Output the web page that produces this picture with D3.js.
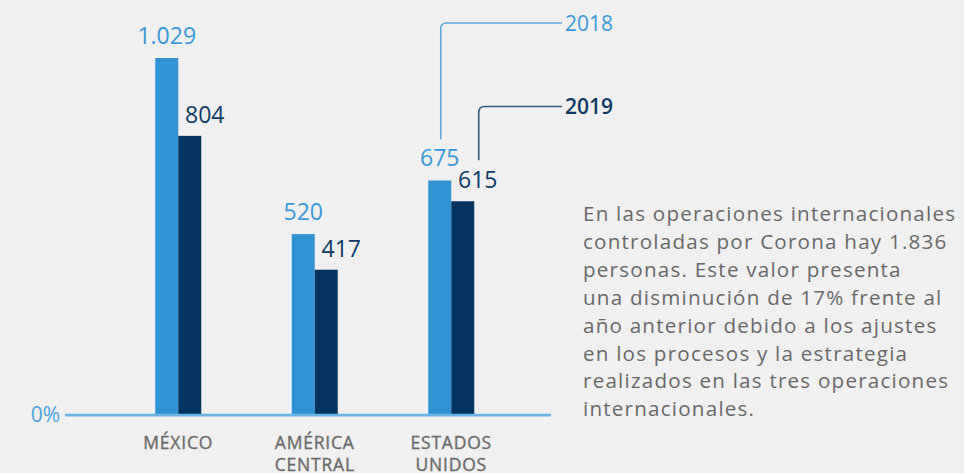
<!DOCTYPE html>
<html>
<head>
<meta charset="utf-8">
<script src="https://cdn.jsdelivr.net/npm/d3@7"></script>
<style>
  html, body { margin: 0; padding: 0; background: #f0f0f0; }
  svg { display: block; font-family: "Open Sans", "Noto Sans", sans-serif; }
</style>
</head>
<body>
<svg id="chart" width="964" height="473"></svg>
<script>
// Personas en operaciones internacionales por región
const categories = [["MÉXICO"], ["AMÉRICA", "CENTRAL"], ["ESTADOS", "UNIDOS"]];
const years = ["2018", "2019"];
const values2018 = [1029, 520, 675];
const values2019 = [804, 417, 615];
const valueLabels2018 = ["1.029", "520", "675"];
const valueLabels2019 = ["804", "417", "615"];
const zeroLabel = "0%";
const noteLines = [
  "En las operaciones internacionales",
  "controladas por Corona hay 1.836",
  "personas. Este valor presenta",
  "una disminución de 17% frente al",
  "año anterior debido a los ajustes",
  "en los procesos y la estrategia",
  "realizados en las tres operaciones",
  "internacionales."
];

const colors = { "2018": "#3193d3", "2019": "#02345f" };
const labelColors = { "2018": "#3a98d8", "2019": "#0c3a63" };

const svg = d3.select("#chart");
const baseY = 414;

const keys = categories.map(c => c.join(" "));
const x = d3.scaleBand().domain(keys).range([110, 519.5]).padding(0);
const sub = d3.scaleBand().domain(years).range([x.bandwidth() / 2 - 23, x.bandwidth() / 2 + 23]);
const y = d3.scaleLinear().domain([0, d3.max(values2018.concat(values2019))]).range([baseY, 58]);

const rows = keys.map((k, i) => ({
  key: k, lines: categories[i],
  "2018": values2018[i], "2019": values2019[i],
  l2018: valueLabels2018[i], l2019: valueLabels2019[i]
}));

// bars
const g = svg.append("g");
rows.forEach(r => {
  years.forEach(yr => {
    g.append("rect")
      .attr("x", x(r.key) + sub(yr))
      .attr("y", y(r[yr]))
      .attr("width", sub.bandwidth())
      .attr("height", baseY - y(r[yr]))
      .attr("fill", colors[yr]);
  });
});

// baseline
svg.append("line")
  .attr("x1", 65).attr("x2", 551)
  .attr("y1", baseY + 1.2).attr("y2", baseY + 1.2)
  .attr("stroke", "#6ab3e5").attr("stroke-width", 2.8);

svg.append("text")
  .attr("x", 60).attr("y", baseY + 7.5)
  .attr("text-anchor", "end")
  .attr("font-size", 21).attr("fill", "#4ea3dd")
  .text(zeroLabel);

// value labels
rows.forEach(r => {
  svg.append("text")
    .attr("x", x(r.key) + sub("2018") + sub.bandwidth() / 2)
    .attr("y", y(r["2018"]) - 14)
    .attr("text-anchor", "middle")
    .attr("font-size", 23).attr("fill", labelColors["2018"])
    .text(r.l2018);
  svg.append("text")
    .attr("x", x(r.key) + sub("2019") + sub.bandwidth() / 2 + 15)
    .attr("y", y(r["2019"]) - 13)
    .attr("text-anchor", "middle")
    .attr("font-size", 23).attr("fill", labelColors["2019"])
    .text(r.l2019);
});

// category labels
rows.forEach(r => {
  const t = svg.append("text")
    .attr("text-anchor", "middle")
    .attr("font-size", 17.5).attr("fill", "#6a6a6a")
    .attr("stroke", "#6a6a6a").attr("stroke-width", 0.35)
    .attr("letter-spacing", 0.8);
  r.lines.forEach((ln, j) => {
    t.append("tspan")
      .attr("x", x(r.key) + x.bandwidth() / 2)
      .attr("y", 449 + j * 22)
      .text(ln);
  });
});

// legend with leader lines from the last group's labels
const last = rows[rows.length - 1];
const legendY = { "2018": 23, "2019": 106.5 };
const legendEndX = 562;
years.forEach(yr => {
  const cx = x(last.key) + sub(yr) + sub.bandwidth() / 2 + (yr === "2019" ? 15 : 0) + 1;
  const bottom = y(last[yr]) - 41;
  const top = legendY[yr];
  const rr = 6;
  svg.append("path")
    .attr("d", `M${cx},${bottom} V${top + rr} Q${cx},${top} ${cx + rr},${top} H${legendEndX}`)
    .attr("fill", "none")
    .attr("stroke", yr === "2018" ? "#5ba9df" : "#35597d")
    .attr("stroke-width", 1.6);
  svg.append("text")
    .attr("x", legendEndX + 3).attr("y", top + 7.5)
    .attr("font-size", 21)
    .attr("font-weight", yr === "2019" ? 600 : 400)
    .attr("fill", labelColors[yr])
    .text(yr);
});

// note paragraph: first line spread to the column width
const noteSize = 20.6;
const note = svg.append("text")
  .attr("font-size", noteSize).attr("fill", "#686868");
noteLines.forEach((ln, i) => {
  note.append("tspan").attr("x", 583).attr("y", 221 + i * 27.9).text(ln);
});
const first = note.select("tspan");
const firstW = first.node().getComputedTextLength();
const spacing = (372 - firstW) / (noteLines[0].length - 1);
note.attr("letter-spacing", Math.max(0, spacing).toFixed(2));
</script>
</body>
</html>
